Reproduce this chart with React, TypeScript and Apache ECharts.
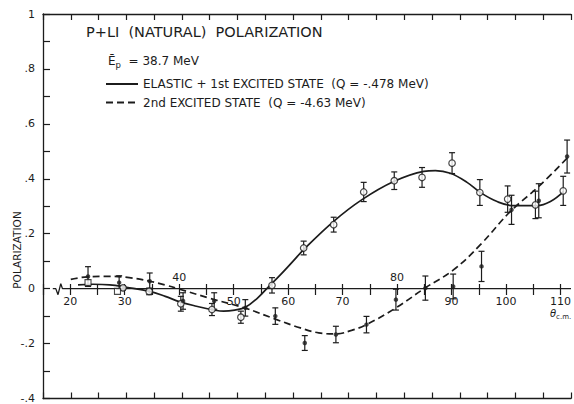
import React, { useEffect, useRef } from 'react';
import * as echarts from 'echarts';

const INK = '#1c1c1c';
const FONT = 'DejaVu Sans';

const TITLE = 'P+LI  (NATURAL)  POLARIZATION';
const SOLID_NAME = 'ELASTIC + 1st EXCITED STATE  (Q = -.478 MeV)';
const DASHED_NAME = '2nd EXCITED STATE  (Q = -4.63 MeV)';
const Y_NAME = 'POLARIZATION';

const Y_LABELS = ['-.4', '-.2', '0', '.2', '.4', '.6', '.8', '1'];
const X_LABELS_BELOW = [20, 30, 50, 60, 70, 90, 100, 110];
const X_LABELS_ABOVE = [40, 80];

// fitted curves (theta c.m., polarization)
const SOLID_CURVE: [number, number][] = [
  [21.3, 0.014], [24, 0.016], [27, 0.014], [30, 0.005], [34.2, -0.01], [37, -0.028],
  [39.6, -0.048], [42.6, -0.064], [45.6, -0.077], [47.5, -0.082], [49.5, -0.078],
  [51.4, -0.068], [53.5, -0.036], [55.4, 0.003], [57.7, 0.05], [60, 0.1], [61.9, 0.142],
  [67.3, 0.245], [72.4, 0.324], [78.1, 0.39], [83.5, 0.427], [85.6, 0.43], [88.3, 0.42],
  [91.3, 0.387], [93.7, 0.35], [96.7, 0.317], [99.7, 0.302], [103.9, 0.302],
  [106.3, 0.317], [108.7, 0.354],
];
const DASHED_CURVE: [number, number][] = [
  [20, 0.034], [23, 0.043], [27, 0.045], [30.5, 0.04], [34.2, 0.027], [37, 0.013],
  [39.6, -0.002], [45, -0.035], [51.4, -0.071], [56.8, -0.111], [61.3, -0.143],
  [64.6, -0.161], [67.7, -0.165], [70.5, -0.152], [73.2, -0.131], [78.5, -0.07],
  [83.8, 0.003], [88.9, 0.069], [93.7, 0.16], [99.1, 0.281], [104.2, 0.372], [109.3, 0.475],
];

// measured points: [theta, polarization, error]
const ELASTIC_POINTS: [number, number, number][] = [
  [29.4, 0.003, 0.008], [34.1, -0.01, 0.012], [39.8, -0.055, 0.027], [45.4, -0.076, 0.022],
  [50.6, -0.104, 0.022], [56.2, 0.012, 0.028], [61.9, 0.148, 0.025], [67.3, 0.233, 0.027],
  [72.7, 0.352, 0.035], [78.2, 0.393, 0.032], [83.2, 0.405, 0.036], [88.6, 0.457, 0.038],
  [93.6, 0.35, 0.047], [98.6, 0.326, 0.048], [103.6, 0.305, 0.05], [108.6, 0.356, 0.053],
];
const EXCITED2_POINTS: [number, number, number][] = [
  [23.1, 0.044, 0.036], [28.7, 0.022, 0.025], [34.2, 0.027, 0.03], [40.2, -0.045, 0.03],
  [45.8, -0.045, 0.03], [51.4, -0.07, 0.03], [56.8, -0.1, 0.03], [62.1, -0.198, 0.027],
  [67.7, -0.167, 0.03], [73.2, -0.131, 0.03], [78.5, -0.04, 0.038], [83.8, 0.002, 0.044],
  [88.8, 0.008, 0.045], [93.9, 0.081, 0.055], [99.3, 0.287, 0.053], [104.2, 0.32, 0.062],
  [109.3, 0.481, 0.06],
];
const SQUARE_POINTS: [number, number][] = [[23.1, 0.022], [28.4, -0.01]];

// zero line with the axis-break zigzag near its left end
const ZERO_LINE: [number, number][] = [
  [16.76, 0], [17.3, 0], [17.7, -0.022], [18.2, 0.018], [18.5, 0], [110, 0],
];

const X_MIN = 15;
const X_MAX = 110;

function errorBars(data: [number, number, number][]) {
  return {
    type: 'custom',
    xAxisIndex: 0,
    yAxisIndex: 0,
    z: 3,
    encode: { x: 0, y: 1 },
    data,
    renderItem: (_p: any, api: any) => {
      const x = api.value(0);
      const y = api.value(1);
      const e = api.value(2);
      const t = api.coord([x, y + e]);
      const b = api.coord([x, y - e]);
      const w = 3;
      const style = { stroke: INK, lineWidth: 1.2, fill: 'none' };
      return {
        type: 'group',
        children: [
          { type: 'line', shape: { x1: t[0], y1: t[1], x2: b[0], y2: b[1] }, style },
          { type: 'line', shape: { x1: t[0] - w, y1: t[1], x2: t[0] + w, y2: t[1] }, style },
          { type: 'line', shape: { x1: b[0] - w, y1: b[1], x2: b[0] + w, y2: b[1] }, style },
        ],
      };
    },
  };
}

export default function App() {
  const ref = useRef<HTMLDivElement>(null);

  useEffect(() => {
    if (!ref.current) return;
    const chart = echarts.init(ref.current, undefined, { renderer: 'svg' });
    const labelStyle = { fontFamily: FONT, fontSize: 11, color: INK };

    chart.setOption({
      animation: false,
      backgroundColor: '#ffffff',
      title: [
        {
          text: TITLE,
          left: 86,
          top: 24,
          padding: 0,
          textStyle: { fontFamily: FONT, fontSize: 14.5, fontWeight: 'normal', color: INK },
        },
        {
          text: '{e|\u0112}{s|p}{t|  = 38.7 MeV}',
          left: 108,
          top: 53,
          padding: 0,
          textStyle: {
            fontWeight: 'normal',
            rich: {
              e: { fontFamily: FONT, fontSize: 12, fontWeight: 'normal', color: INK, lineHeight: 16, verticalAlign: 'middle' },
              s: { fontFamily: FONT, fontSize: 8.5, fontWeight: 'normal', color: INK, lineHeight: 9, verticalAlign: 'bottom' },
              t: { fontFamily: FONT, fontSize: 12, fontWeight: 'normal', color: INK, lineHeight: 16, verticalAlign: 'middle' },
            },
          },
        },
      ],
      legend: {
        data: [SOLID_NAME, DASHED_NAME],
        orient: 'vertical',
        left: 105,
        top: 77,
        padding: 0,
        itemWidth: 32,
        itemHeight: 14,
        itemGap: 4.5,
        selectedMode: false,
        itemStyle: { opacity: 0, color: 'transparent', borderWidth: 0 },
        textStyle: { fontFamily: FONT, fontSize: 12, color: INK, lineHeight: 14 },
      },
      grid: [
        { left: 43, right: 3, top: 14, bottom: 5 },
        { left: 43, right: 3, top: 14, bottom: 115 },
      ],
      xAxis: [
        {
          // bottom frame
          type: 'value', gridIndex: 0, position: 'bottom', min: X_MIN, max: X_MAX, interval: 5,
          axisLine: { show: true, onZero: false, lineStyle: { color: INK, width: 1.3 } },
          axisTick: { show: true, inside: true, length: 6, lineStyle: { color: INK, width: 1.2 } },
          axisLabel: { show: false },
          splitLine: { show: false },
        },
        {
          // top frame
          type: 'value', gridIndex: 0, position: 'top', min: X_MIN, max: X_MAX, interval: 5,
          axisLine: { show: true, onZero: false, lineStyle: { color: INK, width: 1.3 } },
          axisTick: { show: true, inside: true, length: 6, lineStyle: { color: INK, width: 1.2 } },
          axisLabel: { show: false },
          splitLine: { show: false },
        },
        {
          // zero-line axis: lower ticks and labels
          type: 'value', gridIndex: 1, position: 'bottom', min: X_MIN, max: X_MAX, interval: 5,
          axisLine: { show: false, onZero: false },
          axisTick: { show: true, inside: false, length: 6, lineStyle: { color: INK, width: 1.2 } },
          axisLabel: {
            ...labelStyle,
            margin: 7,
            formatter: (v: number) => (X_LABELS_BELOW.includes(v) ? String(v) : ''),
          },
          splitLine: { show: false },
        },
        {
          // zero-line axis: upper ticks and labels
          type: 'value', gridIndex: 1, position: 'bottom', min: X_MIN, max: X_MAX, interval: 5,
          axisLine: { show: false, onZero: false },
          axisTick: { show: true, inside: true, length: 5, lineStyle: { color: INK, width: 1.2 } },
          axisLabel: {
            ...labelStyle,
            inside: true,
            margin: 6,
            formatter: (v: number) => (X_LABELS_ABOVE.includes(v) ? String(v) : ''),
          },
          splitLine: { show: false },
        },
      ],
      yAxis: [
        {
          type: 'value', gridIndex: 0, position: 'left', min: -0.4, max: 1, interval: 0.1,
          axisLine: { show: true, onZero: false, lineStyle: { color: INK, width: 1.3 } },
          axisTick: { show: true, inside: true, length: 7, lineStyle: { color: INK, width: 1.2 } },
          axisLabel: {
            ...labelStyle,
            margin: 8,
            formatter: (v: number) => {
              const k = Math.round((v + 0.4) * 10);
              return k % 2 === 0 ? Y_LABELS[k / 2] : '';
            },
          },
          splitLine: { show: false },
        },
        { type: 'value', gridIndex: 1, min: 0, max: 1, show: false },
      ],
      graphic: [
        {
          type: 'text',
          x: 17,
          y: 250,
          rotation: Math.PI / 2,
          style: {
            text: Y_NAME,
            fontFamily: FONT,
            fontSize: 10.5,
            fill: INK,
            align: 'center',
            verticalAlign: 'middle',
          },
        },
        {
          type: 'text',
          x: 550,
          y: 313,
          style: {
            text: '{a|\u03b8}{b|c.m.}',
            fill: INK,
            align: 'left',
            verticalAlign: 'middle',
            rich: {
              a: { fontFamily: FONT, fontSize: 10, fontStyle: 'italic', fill: INK, lineHeight: 14, verticalAlign: 'middle' },
              b: { fontFamily: FONT, fontSize: 7, fill: INK, lineHeight: 8, verticalAlign: 'bottom' },
            },
          },
        },
      ],
      series: [
        {
          type: 'line', name: 'zero', xAxisIndex: 0, yAxisIndex: 0, data: ZERO_LINE,
          symbol: 'none', silent: true, z: 1,
          lineStyle: { color: INK, width: 1.3 },
        },
        {
          type: 'line', name: SOLID_NAME, xAxisIndex: 0, yAxisIndex: 0, data: SOLID_CURVE,
          symbol: 'none', smooth: 0.4, z: 2,
          lineStyle: { color: INK, width: 1.7 },
          itemStyle: { color: INK },
        },
        {
          type: 'line', name: DASHED_NAME, xAxisIndex: 0, yAxisIndex: 0, data: DASHED_CURVE,
          symbol: 'none', smooth: 0.4, z: 2,
          lineStyle: { color: INK, width: 1.7, type: [7, 4] },
          itemStyle: { color: INK },
        },
        errorBars(ELASTIC_POINTS),
        errorBars(EXCITED2_POINTS),
        {
          type: 'scatter', name: 'elastic data', xAxisIndex: 0, yAxisIndex: 0,
          data: ELASTIC_POINTS.map((p) => [p[0], p[1]]),
          symbol: 'circle', symbolSize: 6.5, z: 4,
          itemStyle: { color: '#ffffff', borderColor: INK, borderWidth: 1.2 },
        },
        {
          type: 'scatter', name: '2nd data', xAxisIndex: 0, yAxisIndex: 0,
          data: EXCITED2_POINTS.map((p) => [p[0], p[1]]),
          symbol: 'circle', symbolSize: 4.5, z: 4,
          itemStyle: { color: INK },
        },
        {
          type: 'scatter', name: 'square data', xAxisIndex: 0, yAxisIndex: 0,
          data: SQUARE_POINTS,
          symbol: 'rect', symbolSize: 6, z: 4,
          itemStyle: { color: '#ffffff', borderColor: INK, borderWidth: 1.1 },
        },
      ],
    });

    return () => chart.dispose();
  }, []);

  return (
    <div
      ref={ref}
      style={{ position: 'fixed', left: 0, top: 0, width: 574, height: 404, background: '#fff' }}
    />
  );
}
